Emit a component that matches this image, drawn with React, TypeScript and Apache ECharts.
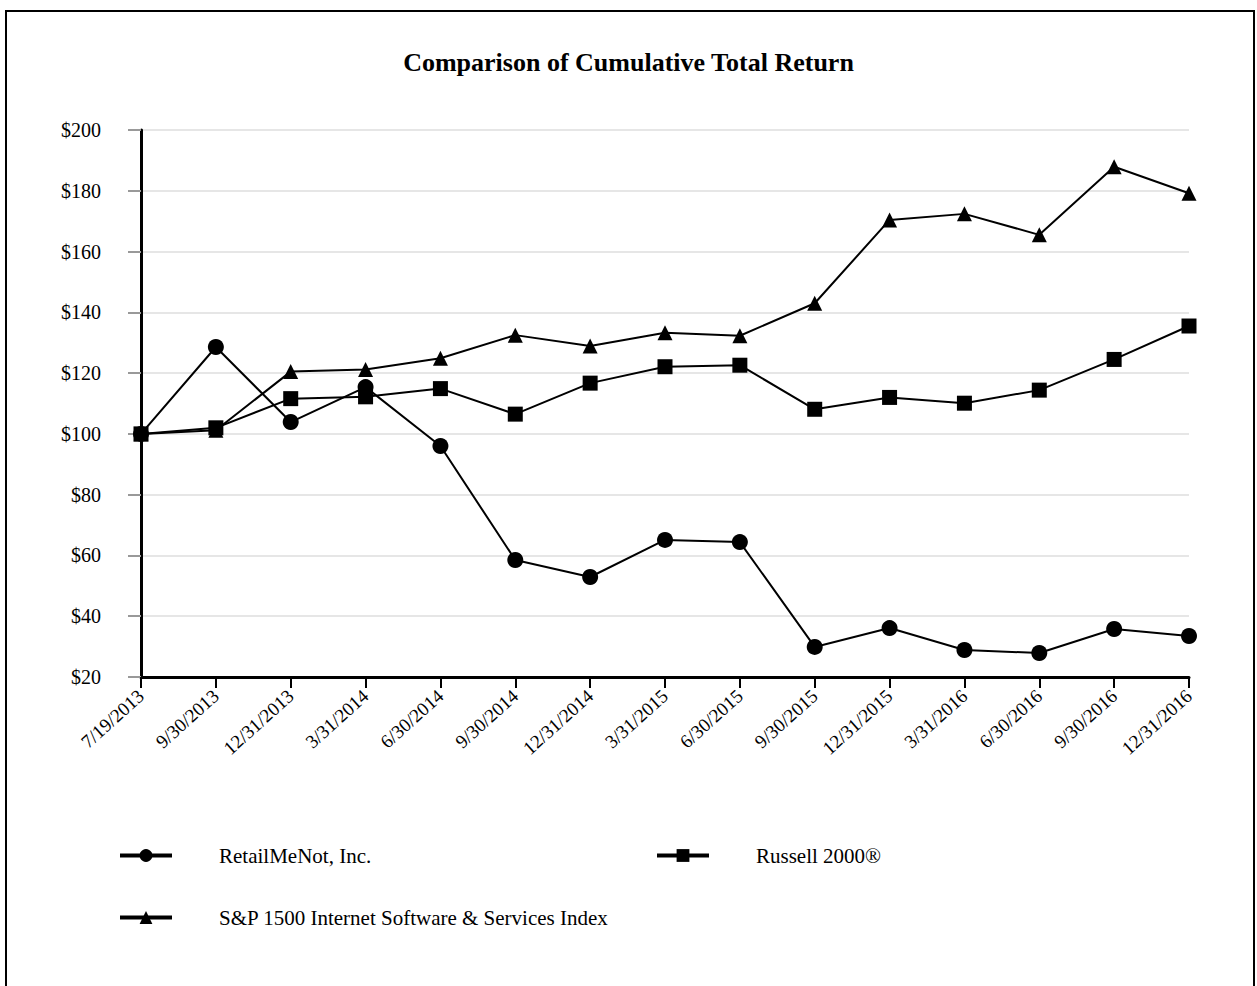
import React, { useEffect, useRef } from "react";
import * as echarts from "echarts";

const categories = [
  "7/19/2013", "9/30/2013", "12/31/2013", "3/31/2014", "6/30/2014",
  "9/30/2014", "12/31/2014", "3/31/2015", "6/30/2015", "9/30/2015",
  "12/31/2015", "3/31/2016", "6/30/2016", "9/30/2016", "12/31/2016",
];

const retailMeNot = [100, 128.6, 103.9, 115.4, 96.0, 58.5, 52.9, 65.1, 64.4, 29.9, 36.1, 28.9, 27.9, 35.8, 33.5];
const russell2000 = [100, 102.0, 111.6, 112.2, 114.9, 106.5, 116.7, 122.1, 122.6, 108.1, 112.0, 110.1, 114.4, 124.5, 135.5];
const sp1500 = [100, 101.2, 120.5, 121.2, 124.9, 132.5, 128.9, 133.3, 132.3, 143.0, 170.4, 172.4, 165.5, 187.9, 179.2];

const yTicks = { min: 20, max: 200, interval: 20 };

const FONT = "'Liberation Serif', 'Times New Roman', serif";

export default function App() {
  const ref = useRef<HTMLDivElement>(null);

  useEffect(() => {
    document.body.style.margin = "0";
    const chart = echarts.init(ref.current!, null, { renderer: "svg" });
    const legendText = { fontFamily: FONT, fontSize: 21, color: "#000", padding: [0, 0, 0, 42] };
    const legendCommon = {
      orient: "horizontal",
      padding: 0,
      itemWidth: 52,
      itemHeight: 16,
      textStyle: legendText,
      lineStyle: { width: 4 },
      selectedMode: false,
    };
    const line = (name: string, data: number[], symbol: string, size: number) => ({
      name,
      type: "line",
      data,
      symbol,
      symbolSize: size,
      showSymbol: true,
      color: "#000",
      lineStyle: { color: "#000", width: 2 },
      itemStyle: { color: "#000" },
      emphasis: { disabled: true },
    });
    chart.setOption({
      animation: false,
      backgroundColor: "#fff",
      textStyle: { fontFamily: FONT },
      title: {
        text: "Comparison of Cumulative Total Return",
        left: "center",
        top: 44,
        textStyle: { fontFamily: FONT, fontSize: 26, fontWeight: "bold", color: "#000" },
      },
      graphic: [
        {
          type: "rect",
          shape: { x: 6, y: 11, width: 1248, height: 1000 },
          style: { fill: "none", stroke: "#000", lineWidth: 2 },
          z: -1,
        },
      ],
      legend: [
        { ...legendCommon, left: 118, top: 845, data: ["RetailMeNot, Inc."] },
        { ...legendCommon, left: 655, top: 845, data: ["Russell 2000®"] },
        { ...legendCommon, left: 118, top: 907, data: ["S&P 1500 Internet Software & Services Index"] },
      ],
      grid: { left: 141, right: 68, top: 130, bottom: 309, containLabel: false },
      xAxis: {
        type: "category",
        data: categories,
        boundaryGap: false,
        axisLine: { lineStyle: { color: "#000", width: 3 } },
        axisTick: { show: true, length: 11, lineStyle: { color: "#000", width: 2 } },
        axisLabel: {
          rotate: 42,
          fontFamily: FONT,
          fontSize: 19,
          color: "#000",
          margin: 16,
          interval: 0,
        },
        splitLine: { show: false },
      },
      yAxis: {
        type: "value",
        min: yTicks.min,
        max: yTicks.max,
        interval: yTicks.interval,
        axisLine: { show: true, lineStyle: { color: "#000", width: 3 } },
        axisTick: { show: true, length: 13, lineStyle: { color: "#999", width: 2 } },
        axisLabel: {
          fontFamily: FONT,
          fontSize: 20,
          color: "#000",
          margin: 40,
          formatter: (v: number) => "$" + v,
        },
        splitLine: { show: true, lineStyle: { color: "#e6e6e6", width: 2 } },
      },
      series: [
        line("RetailMeNot, Inc.", retailMeNot, "circle", 16),
        line("Russell 2000®", russell2000, "rect", 15),
        line("S&P 1500 Internet Software & Services Index", sp1500, "triangle", 15),
      ],
    });
    return () => chart.dispose();
  }, []);

  return <div ref={ref} style={{ width: 1257, height: 986 }} />;
}
